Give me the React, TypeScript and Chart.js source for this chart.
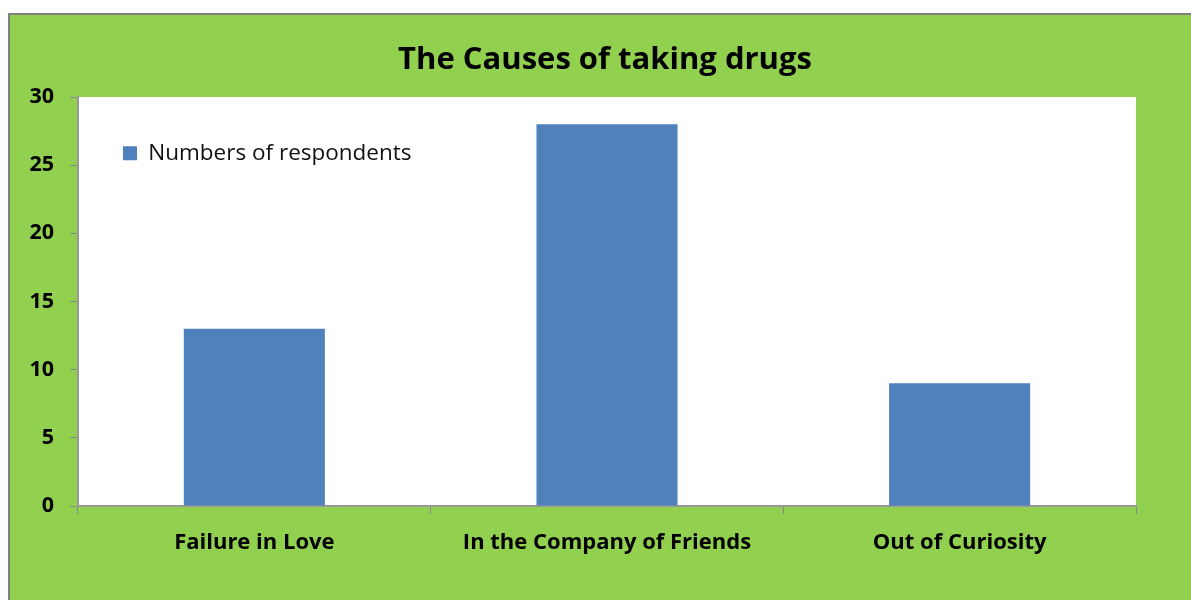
import React, { useEffect, useRef } from "react";
import { Chart, registerables } from "chart.js";

Chart.register(...registerables);

const categories = ["Failure in Love", "In the Company of Friends", "Out of Curiosity"];
const respondents = [13, 28, 9];
const seriesLabel = "Numbers of respondents";
const chartTitle = "The Causes of taking drugs";
const yMin = 0;
const yMax = 30;
const yStep = 5;

const FONT = "'Open Sans', 'Noto Sans', sans-serif";

const legendInsidePlot = {
  id: "legendInsidePlot",
  afterLayout(chart: any) {
    const lg = chart.legend;
    if (!lg) return;
    const dy = chart.chartArea.top - lg.top;
    lg.top += dy;
    lg.bottom += dy;
  },
};

export default function App() {
  const ref = useRef<HTMLCanvasElement | null>(null);

  useEffect(() => {
    if (!ref.current) return;
    document.body.style.overflow = "hidden";
    const chart = new Chart(ref.current, {
      type: "bar",
      data: {
        labels: categories,
        datasets: [
          {
            label: seriesLabel,
            data: respondents,
            backgroundColor: "#4F81BD",
            borderWidth: 0,
            barPercentage: 0.4,
            categoryPercentage: 1.0,
          },
        ],
      },
      plugins: [legendInsidePlot],
      options: {
        responsive: false,
        animation: false,
        layout: { padding: { top: 0, right: 0, left: 9, bottom: 0 } },
        plugins: {
          title: {
            display: true,
            text: chartTitle,
            color: "#000",
            font: { family: FONT, size: 31, weight: "bold", lineHeight: 1.2 },
            padding: { top: 27, bottom: 17.8 },
          },
          legend: {
            display: true,
            position: "chartArea" as any,
            align: "start",
            labels: {
              color: "#111",
              boxWidth: 14,
              boxHeight: 14,
              padding: 45,
              font: { family: FONT, size: 22.5 },
            },
          },
          tooltip: { enabled: false },
        },
        scales: {
          x: {
            grid: {
              offset: true,
              drawOnChartArea: false,
              drawTicks: true,
              tickLength: 8,
              color: "#888",
            },
            border: { display: true, color: "#999", width: 2 },
            ticks: {
              color: "#000",
              padding: 16,
              font: { family: FONT, size: 22, weight: "bold" },
            },
            afterFit: (scale: any) => {
              scale.height = 94;
            },
          },
          y: {
            min: yMin,
            max: yMax,
            ticks: {
              stepSize: yStep,
              color: "#000",
              padding: 16,
              font: { family: FONT, size: 21.5, weight: "bold" },
            },
            grid: {
              drawOnChartArea: false,
              drawTicks: true,
              tickLength: 8,
              color: "#888",
            },
            border: { display: true, color: "#999", width: 2 },
            afterFit: (scale: any) => {
              scale.width = 59;
            },
          },
          spacer: {
            type: "linear",
            position: "right",
            display: true,
            grid: { display: false, drawTicks: false },
            border: { display: false },
            ticks: { display: false },
            afterFit: (scale: any) => {
              scale.width = 55;
            },
          },
        },
      },
    });
    return () => chart.destroy();
  }, []);

  return (
    <div
      style={{
        position: "absolute",
        left: 8,
        top: 13,
        width: 1183,
        height: 587,
        boxSizing: "border-box",
        borderTop: "2px solid #808080",
        borderLeft: "2px solid #808080",
        background: "#92D050",
      }}
    >
      <div style={{ position: "absolute", left: 0, top: 0, width: 1181, height: 585 }}>
        <div style={{ position: "absolute", left: 68, top: 82, width: 1058, height: 409, background: "#fff" }} />
        <canvas ref={ref} width={1181} height={585} style={{ position: "absolute", left: 0, top: 0 }} />
      </div>
    </div>
  );
}
